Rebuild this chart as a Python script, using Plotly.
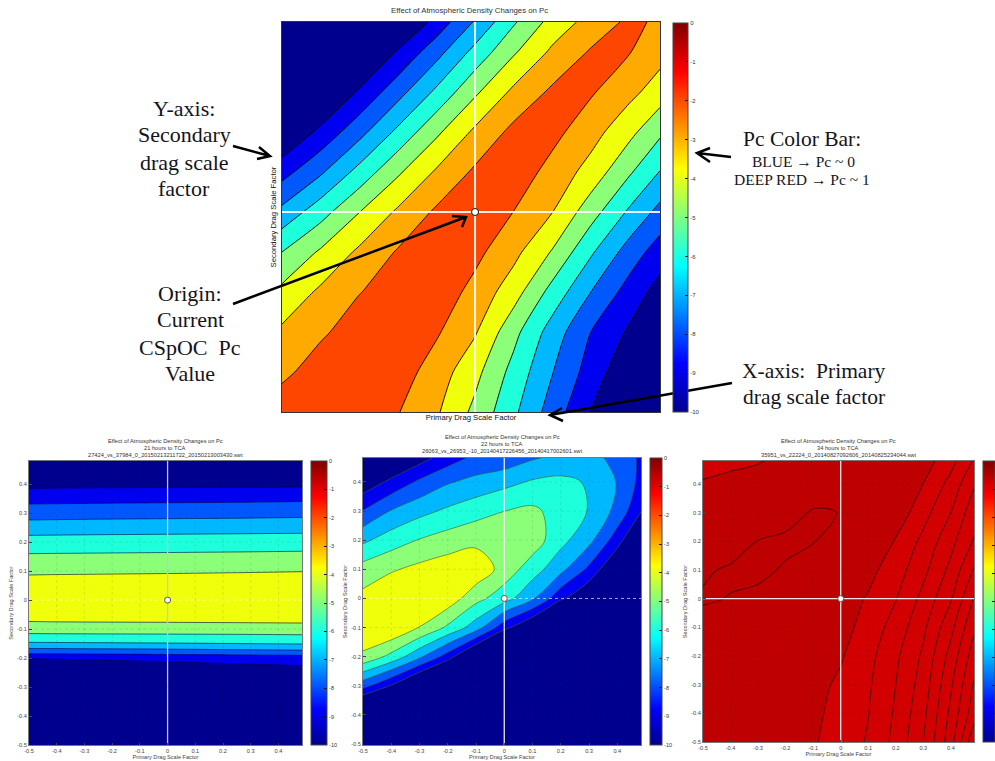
import plotly.graph_objects as go

W, H = 995, 761

# ---- data ----
band_colors = ['#00008f', '#0000f0', '#0058ff', '#00b8ff', '#1effdc',
               '#8cff78', '#f0ff0a', '#ffaa00', '#ff4600', '#d20000']
cbar_ticks = [-10, -9, -8, -7, -6, -5, -4, -3, -2, -1, 0]
axis_ticks = [-0.5, -0.4, -0.3, -0.2, -0.1, 0, 0.1, 0.2, 0.3, 0.4]
axis_labels = ['-0.5', '-0.4', '-0.3', '-0.2', '-0.1', '0', '0.1', '0.2', '0.3', '0.4']

top_x = [-0.5, -0.4, -0.3, -0.2, -0.1, 0, 0.1, 0.2, 0.3, 0.4, 0.479]
top_y = [0.475, 0.4, 0.3, 0.2, 0.1, 0, -0.1, -0.2, -0.3, -0.4, -0.5]
top_z = [
    [-15, -13.6, -12, -10.3, -8.63, -6.9, -5.13, -3.64, -2.62, -1.8, -2.15],
    [-13.5, -12, -10.4, -8.9, -7.37, -5.68, -4.13, -2.81, -1.9, -1.96, -2.63],
    [-11.8, -10.35, -8.86, -7.38, -5.79, -4.18, -2.78, -1.82, -1.89, -2.72, -3.49],
    [-10.1, -8.74, -7.34, -5.77, -4.2, -2.8, -1.73, -1.7, -2.6, -3.72, -4.81],
    [-8.38, -7.15, -5.66, -4.16, -2.87, -1.83, -1.42, -2.34, -3.38, -4.87, -6.04],
    [-6.72, -5.41, -4.02, -2.84, -1.84, -1.55, -2.01, -2.98, -4.57, -6.17, -7.32],
    [-5.0, -3.86, -2.82, -1.91, -1.7, -1.73, -2.71, -4.08, -5.85, -7.45, -8.5],
    [-3.74, -2.82, -2.03, -1.65, -1.4, -2.31, -3.56, -5.36, -7.0, -8.42, -9.4],
    [-2.82, -2.13, -1.6, -1.45, -1.88, -2.9, -4.69, -6.45, -8.0, -9.15, -10.2],
    [-2.2, -1.6, -1.4, -1.51, -2.47, -3.7, -5.34, -6.96, -8.44, -9.8, -10.8],
    [-1.5, -1.4, -1.5, -1.95, -2.87, -4.25, -5.8, -7.46, -9.03, -10.5, -11.2],
]

left_x = [-0.5, -0.25, 0, 0.25, 0.485]
left_y = [0.48, 0.386, 0.332, 0.277, 0.224, 0.161, 0.088, 0, -0.075, -0.116,
          -0.146, -0.167, -0.185, -0.203, -0.5]
left_z = [
    [-12, -12, -12, -12, -12],
    [-9.01, -8.95, -8.93, -8.9, -8.85],
    [-8.01, -7.96, -7.93, -7.9, -7.85],
    [-7.01, -6.96, -6.93, -6.9, -6.85],
    [-6.01, -5.97, -5.94, -5.91, -5.88],
    [-5.01, -4.98, -4.95, -4.92, -4.88],
    [-4.01, -3.98, -3.95, -3.91, -3.86],
    [-3.4, -3.4, -3.4, -3.4, -3.4],
    [-4.01, -3.98, -3.96, -3.93, -3.9],
    [-5.01, -4.98, -4.96, -4.94, -4.9],
    [-6.01, -5.96, -5.9, -5.82, -5.75],
    [-7.01, -6.95, -6.88, -6.78, -6.7],
    [-8.01, -7.95, -7.85, -7.76, -7.67],
    [-9.01, -8.96, -8.9, -8.82, -8.75],
    [-12, -12, -12, -12, -12],
]

mid_x = [-0.5, -0.4, -0.3, -0.2, -0.1, 0, 0.1, 0.2, 0.3, 0.4, 0.484]
mid_y = [0.482, 0.4, 0.3, 0.2, 0.1, 0, -0.1, -0.2, -0.3, -0.4, -0.503]
mid_z = [
    [-11.1, -10.3, -9.42, -8.5, -7.75, -7.64, -7.1, -6.75, -6.55, -7.4, -8.15],
    [-9.7, -8.77, -7.83, -7.1, -6.71, -6.31, -5.89, -5.75, -6.1, -7.05, -8.3],
    [-7.96, -6.94, -6.31, -5.82, -5.37, -5.01, -4.8, -5.4, -6.05, -7.3, -8.95],
    [-6.2, -5.49, -4.94, -4.55, -4.28, -4.2, -4.45, -5.7, -6.7, -8.55, -10.5],
    [-4.58, -4.12, -3.73, -3.43, -3.27, -4.4, -5.54, -6.7, -8.24, -10.2, -12],
    [-3.71, -3.1, -3.3, -3.39, -4.68, -5.57, -6.85, -8.76, -10.1, -13, -15],
    [-3.2, -3.05, -4.03, -5.18, -6.52, -8.67, -10.2, -13, -14, -17, -19],
    [-4.2, -5.31, -6.79, -8.5, -10.8, -13, -15, -17, -18, -20, -22],
    [-7.65, -9.1, -10.95, -12.8, -15, -17, -19, -20, -21, -23, -25],
    [-12, -13, -15, -17, -19, -21, -23, -24, -25, -26, -28],
    [-15, -16, -18, -20, -22, -24, -26, -27, -28, -29, -30],
]

right_x = [-0.5, -0.4, -0.3, -0.2, -0.1, 0, 0.1, 0.2, 0.3, 0.4, 0.484]
right_y = [0.48, 0.4, 0.3, 0.2, 0.1, 0, -0.1, -0.2, -0.3, -0.4, -0.5]
right_z = [
    [-.74, -.72, -.705, -.68, -.66, -.64, -.64, -.64, -.65, -.767, -.91],
    [-.69, -.675, -.67, -.665, -.66, -.66, -.65, -.64, -.701, -.833, -.99],
    [-.665, -.66, -.66, -.64, -.59, -.602, -.63, -.6375, -.7625, -.9, -1.06],
    [-.67, -.675, -.597, -.58, -.597, -.63, -.66, -.705, -.827, -.969, -1.11],
    [-.62, -.58, -.58, -.61, -.635, -.65, -.67, -.753, -.873, -1.027, -1.21],
    [-.585, -.605, -.62, -.63, -.64, -.65, -.709, -.796, -.929, -1.09, -1.31],
    [-.65, -.65, -.65, -.65, -.64, -.66, -.742, -.84, -.979, -1.171, -1.385],
    [-.65, -.65, -.65, -.65, -.66, -.69, -.769, -.88, -1.018, -1.237, -1.45],
    [-.65, -.65, -.65, -.65, -.67, -.717, -.786, -.9, -1.045, -1.286, -1.51],
    [-.66, -.66, -.66, -.66, -.68, -.732, -.797, -.914, -1.073, -1.325, -1.56],
    [-.66, -.66, -.66, -.66, -.69, -.745, -.81, -.93, -1.1, -1.36, -1.68],
]

title_main = 'Effect of Atmospheric Density Changes on Pc'
x_title = 'Primary Drag Scale Factor'
y_title = 'Secondary Drag Scale Factor'

# ---- helpers ----
SANS = 'Liberation Sans, Arial, sans-serif'
SERIF = 'Liberation Serif, Times New Roman, serif'
JET = [[0, 'rgb(0,0,143)'], [0.125, 'rgb(0,0,255)'], [0.375, 'rgb(0,255,255)'],
       [0.625, 'rgb(255,255,0)'], [0.875, 'rgb(255,0,0)'], [1, 'rgb(128,0,0)']]
BANDS = [[i / 9, c] for i, c in enumerate(band_colors)]


def px(v):
    return v / W


def py(v):
    return 1 - v / H


fig = go.Figure()
layout = dict(width=W, height=H, paper_bgcolor='white', plot_bgcolor='white',
              showlegend=False, margin=dict(l=0, r=0, t=0, b=0, autoexpand=False))
shapes, annos = [], []

panels = [
    dict(n='', box=(282, 660, 22, 412), cb=(673, 688, 23, 412), x=top_x, y=top_y, z=top_z,
         xr=(-0.5, 0.479), yr=(-0.5, 0.475), line='rgba(0,0,0,0.9)', lw=1, frame='#333333',
         labels=False, grid=False, cfont=6,
         title=[title_main], tx=469, ty=[11], tfont=7.8, smooth=0.6),
    dict(n='2', box=(29, 302, 461, 745), cb=(311, 327, 461, 745), x=left_x, y=left_y, z=left_z,
         xr=(-0.5, 0.485), yr=(-0.5, 0.48), line='rgba(0,0,60,0.75)', lw=0.8, frame='#777777',
         labels=True, grid=True, cfont=5.5,
         title=[title_main, '21 hours to TCA', '27424_vs_37984_0_20150213211722_20150213003430.swt'],
         tx=165, ty=[441, 448, 455], tfont=5.7, smooth=0),
    dict(n='3', box=(363, 641, 458, 745), cb=(650, 662, 458, 745), x=mid_x, y=mid_y, z=mid_z,
         xr=(-0.5, 0.484), yr=(-0.503, 0.482), line='rgba(60,90,40,0.75)', lw=0.8, frame='#777777',
         labels=True, grid=True, cfont=5.5,
         title=[title_main, '22 hours to TCA', '26063_vs_26953_-10_20140417226456_20140417002601.swt'],
         tx=502, ty=[437, 444, 451], tfont=5.7, smooth=1),
    dict(n='4', box=(703, 974, 461, 742), cb=(983, 995, 461, 742), x=right_x, y=right_y, z=right_z,
         xr=(-0.5, 0.484), yr=(-0.5, 0.48), line='#640000', lw=1.1, frame='#777777',
         labels=True, grid=True, cfont=5.5, right=True,
         title=[title_main, '34 hours to TCA', '35951_vs_22224_0_20140827092606_20140825234044.swt'],
         tx=838, ty=[441, 448, 455], tfont=5.7, smooth=1),
]

for p in panels:
    xa, ya = 'x' + p['n'], 'y' + p['n']
    l, r, t, b = p['box']
    if p.get('right'):
        fig.add_trace(go.Contour(
            x=p['x'], y=p['y'], z=p['z'], xaxis=xa, yaxis=ya, autocontour=False,
            zmin=-0.75, zmax=-0.55, showscale=False, hoverinfo='skip',
            colorscale=[[0, 'rgb(210,0,0)'], [0.25, 'rgb(210,0,0)'],
                        [0.26, 'rgb(190,0,0)'], [1, 'rgb(190,0,0)']],
            contours=dict(start=-0.7, end=-0.6, size=0.1, coloring='fill', showlines=False),
            line=dict(width=0, smoothing=p['smooth'])))
        fig.add_trace(go.Contour(
            x=p['x'], y=p['y'], z=p['z'], xaxis=xa, yaxis=ya, autocontour=False,
            showscale=False, hoverinfo='skip',
            contours=dict(start=-1.6, end=-0.6, size=0.1, coloring='none'),
            line=dict(color=p['line'], width=p['lw'], smoothing=p['smooth'])))
    else:
        fig.add_trace(go.Contour(
            x=p['x'], y=p['y'], z=p['z'], xaxis=xa, yaxis=ya, autocontour=False,
            zmin=-9.5, zmax=-0.5, colorscale=BANDS, showscale=False, hoverinfo='skip',
            contours=dict(start=-9, end=-1, size=1, coloring='fill'),
            line=dict(color=p['line'], width=p['lw'], smoothing=p['smooth'])))

    # dotted grid over the filled bands
    if p['grid']:
        for v in axis_ticks:
            if v == -0.5 or v == 0:
                continue
            shapes.append(dict(type='line', xref=xa, yref=ya, x0=v, x1=v, y0=p['yr'][0], y1=p['yr'][1],
                               line=dict(color='rgba(40,40,40,0.2)', width=0.6, dash='dot')))
            shapes.append(dict(type='line', xref=xa, yref=ya, y0=v, y1=v, x0=p['xr'][0], x1=p['xr'][1],
                               line=dict(color='rgba(40,40,40,0.2)', width=0.6, dash='dot')))

    # crosshair and origin
    cw = 2 if not p['n'] else 1.3
    fig.add_trace(go.Scatter(x=[0, 0], y=list(p['yr']), xaxis=xa, yaxis=ya, mode='lines',
                             line=dict(color='rgba(255,255,255,0.9)' if p['n'] != '2' else 'rgb(190,200,225)',
                                       width=cw), hoverinfo='skip'))
    solid = p['n'] in ('', '4')
    fig.add_trace(go.Scatter(x=list(p['xr']), y=[0, 0], xaxis=xa, yaxis=ya, mode='lines',
                             line=dict(color='rgba(255,255,255,0.9)' if solid else 'rgba(255,255,255,0.65)',
                                       width=cw if solid else 1,
                                       dash='solid' if solid else 'dot'), hoverinfo='skip'))
    fig.add_trace(go.Scatter(x=[0], y=[0], xaxis=xa, yaxis=ya, mode='markers', hoverinfo='skip',
                             marker=dict(size=7 if not p['n'] else 6, color='white',
                                         line=dict(color='#111111' if not p['n'] else '#555555', width=1))))

    # continuous colour bar
    cl, cr, ct, cb = p['cb']
    fig.add_trace(go.Scatter(
        x=[0], y=[0], xaxis=xa, yaxis=ya, mode='markers', hoverinfo='skip',
        marker=dict(size=1, opacity=0, color=[-10], cmin=-10, cmax=0, colorscale=JET, showscale=True,
                    colorbar=dict(x=px(cl), xanchor='left', xpad=0, ypad=0,
                                  y=py(cb), yanchor='bottom', lenmode='fraction', len=(cb - ct) / H,
                                  thicknessmode='pixels', thickness=cr - cl,
                                  outlinecolor='#444444', outlinewidth=1,
                                  tickmode='array', tickvals=cbar_ticks,
                                  ticktext=[str(v) for v in cbar_ticks],
                                  showticklabels=not p.get('right'),
                                  ticks='inside', ticklen=3, tickcolor='#111111', tickwidth=1,
                                  tickfont=dict(family=SANS, size=p['cfont'], color='#333333')))))

    # axes
    axc = dict(showline=True, mirror=True, linecolor=p['frame'], linewidth=1, showgrid=False,
               zeroline=False, tickfont=dict(family=SANS, size=5.6, color='#444444'),
               tickmode='array', tickvals=axis_ticks, ticktext=axis_labels,
               showticklabels=p['labels'], ticks='inside' if p['labels'] else '',
               ticklen=2.5, tickcolor='#444444', tickwidth=0.7)
    tsize = 5.6 if p['labels'] else 7.7
    tcol = '#444444' if p['labels'] else '#111111'
    xax = dict(axc, domain=[px(l), px(r)], range=list(p['xr']), anchor=ya,
               title=dict(text=x_title, standoff=2, font=dict(family=SANS, size=tsize, color=tcol)))
    yax = dict(axc, domain=[py(b), py(t)], range=list(p['yr']), anchor=xa,
               title=dict(text=y_title, standoff=3, font=dict(family=SANS, size=tsize, color=tcol)))
    layout['xaxis' + p['n']] = xax
    layout['yaxis' + p['n']] = yax

    for text, yy in zip(p['title'], p['ty']):
        annos.append(dict(text=text, x=px(p['tx']), y=py(yy), xref='paper', yref='paper',
                          showarrow=False, xanchor='center', yanchor='middle',
                          font=dict(family=SANS, size=p['tfont'], color='#333333')))

# left-side tick marks on the large colour bar
for v in cbar_ticks[1:-1]:
    yy = 412 + (23 - 412) * (v + 10) / 10
    shapes.append(dict(type='line', xref='paper', yref='paper', x0=px(673), x1=px(676), y0=py(yy), y1=py(yy),
                       line=dict(color='#111111', width=1)))

# serif explanatory text, one entry per line
notes = [
    ('Y-axis:', 184, 108, 22), ('Secondary', 184, 135, 22), ('drag scale', 184, 162, 22), ('factor', 184, 188, 22),
    ('Origin:', 190, 293, 22), ('Current', 190, 320, 22), ('CSpOC  Pc', 190, 347, 22), ('Value', 190, 373, 22),
    ('Pc Color Bar:', 802, 139, 21.5),
    ('BLUE \u2192 Pc ~ 0', 803, 161, 15.5), ('DEEP RED \u2192 Pc ~ 1', 802, 179, 15.5),
    ('X-axis:  Primary', 814, 371, 21.5), ('drag scale factor', 814, 397, 21.5),
]
for text, nx, ny, size in notes:
    annos.append(dict(text=text, x=px(nx), y=py(ny), xref='paper', yref='paper', showarrow=False,
                      xanchor='center', yanchor='middle', align='center',
                      font=dict(family=SERIF, size=size, color='#14141e')))

# arrows: shaft, then the two barbs of the open head
arrows = [
    ((233, 146), (270, 156), (259, 147), (257, 159)),
    ((233, 304), (466, 217), (452, 216), (462, 227)),
    ((731, 157), (697, 153), (710, 148), (710, 162)),
    ((732, 383), (550, 415), (562, 408), (563, 421)),
]
for tail, tip, b1, b2 in arrows:
    path = (f'M {px(tail[0])} {py(tail[1])} L {px(tip[0])} {py(tip[1])} '
            f'M {px(b1[0])} {py(b1[1])} L {px(tip[0])} {py(tip[1])} L {px(b2[0])} {py(b2[1])}')
    shapes.append(dict(type='path', xref='paper', yref='paper', path=path,
                       line=dict(color='black', width=2.5)))

layout['shapes'] = shapes
layout['annotations'] = annos
fig.update_layout(**layout)
fig.write_html('out.html', config={'displayModeBar': False},
               post_script="document.body.style.margin='0';")
